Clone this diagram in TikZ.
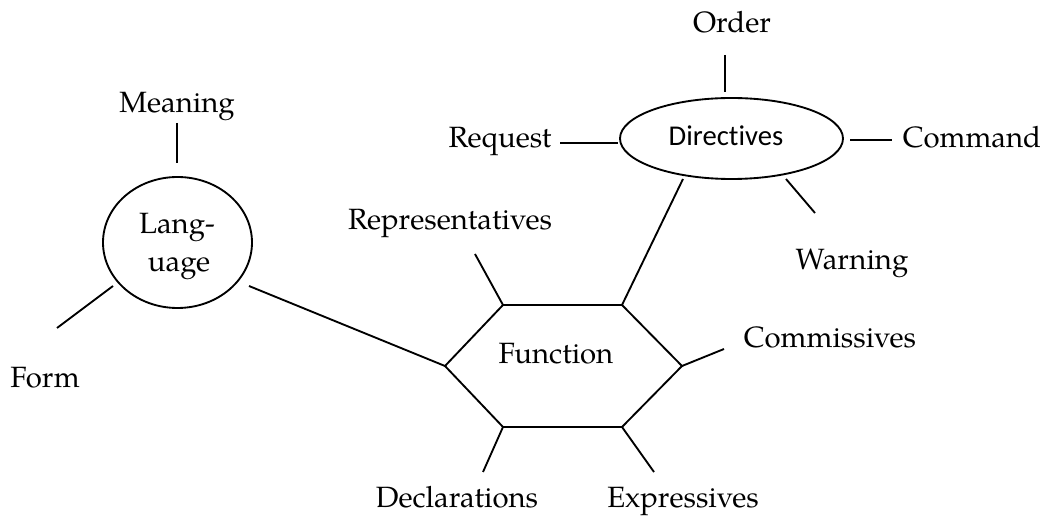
\documentclass[tikz,border=0pt]{standalone}
\usepackage{fontspec}
\setmainfont{TeX Gyre Pagella}
\newfontfamily\calfont[Ligatures=NoCommon]{Carlito}
\usetikzlibrary{shapes.geometric}
\begin{document}
\begin{tikzpicture}[x=0.75pt, y=-0.75pt,
  lbl/.style={font=\fontsize{22}{26}\selectfont, inner sep=0pt, anchor=base},
  oval/.style={draw, ellipse, inner sep=0pt, line width=1.4pt},
  link/.style={line width=1.4pt}]
\useasboundingbox (0,0) rectangle (1047,516);

% --- Language cluster ---
\node[oval, minimum width=111.75pt, minimum height=98.25pt] (lang) at (177.5,242.5) {};
\node[lbl] (lang1) at (177,234) {Lang-};
\node[lbl] (lang2) at (179,272) {uage};
\node[lbl] (meaning) at (177,113) {Meaning};
\node[lbl] (form) at (45,388) {Form};

% --- Directives cluster ---
\node[oval, minimum width=167.25pt, minimum height=60.75pt] (dir) at (731.5,138.5) {};
\node[lbl, font=\calfont\fontsize{21.5}{26}\selectfont] (dirtxt) at (726,146) {Directives};
\node[lbl] (order) at (732,33) {Order};
\node[lbl] (request) at (500,148) {Request};
\node[lbl] (command) at (972,148) {Command};
\node[lbl] (warning) at (852,270) {Warning};

% --- Function hexagon ---
\coordinate (h1) at (503,305);
\coordinate (h2) at (622,305);
\coordinate (h3) at (682,366);
\coordinate (h4) at (622,427);
\coordinate (h5) at (503,427);
\coordinate (h6) at (445,366);
\draw[link, line join=miter] (h1) -- (h2) -- (h3) -- (h4) -- (h5) -- (h6) -- cycle;
\node[lbl] (func) at (556,364) {Function};
\node[lbl] (repr) at (450,230) {Representatives};
\node[lbl] (comm) at (830,348) {Commissives};
\node[lbl] (decl) at (457,508) {Declarations};
\node[lbl, anchor=base west] (expr) at (607,508) {Expressives};

% --- free ends of the spokes ---
\coordinate (meaningA) at (177,123);  \coordinate (meaningB) at (177,163);
\coordinate (formA) at (113,286);     \coordinate (formB) at (57,328);
\coordinate (langF) at (249,286);
\coordinate (reprA) at (475,254);
\coordinate (dirF) at (683,179);
\coordinate (commA) at (724,349);
\coordinate (declA) at (483,472);
\coordinate (exprA) at (654,472);
\coordinate (orderA) at (725,55);     \coordinate (orderB) at (725,92);
\coordinate (reqA) at (560,143);      \coordinate (reqB) at (618,143);
\coordinate (cmdA) at (850,140);      \coordinate (cmdB) at (892,140);
\coordinate (warnA) at (786,179);     \coordinate (warnB) at (815,213);

% --- spokes ---
\draw[link] (meaningA) -- (meaningB);
\draw[link] (formA) -- (formB);
\draw[link] (langF) -- (h6);
\draw[link] (reprA) -- (h1);
\draw[link] (dirF) -- (h2);
\draw[link] (h3) -- (commA);
\draw[link] (h5) -- (declA);
\draw[link] (h4) -- (exprA);
\draw[link] (orderA) -- (orderB);
\draw[link] (reqA) -- (reqB);
\draw[link] (cmdA) -- (cmdB);
\draw[link] (warnA) -- (warnB);
\end{tikzpicture}
\end{document}
